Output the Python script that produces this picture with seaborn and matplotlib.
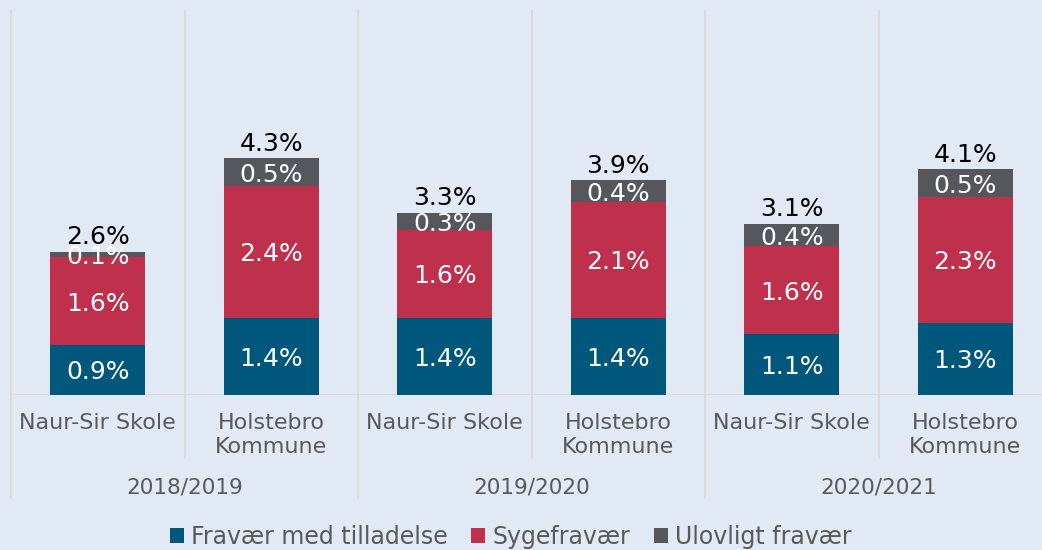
import pandas as pd
import seaborn as sns
import matplotlib.pyplot as plt
import matplotlib.transforms as mtransforms
from matplotlib.patches import Patch

# data (percent)
years = ["2018/2019", "2019/2020", "2020/2021"]
units = ["Naur-Sir Skole", "Holstebro\nKommune"]
series = ["Fravær med tilladelse", "Sygefravær", "Ulovligt fravær"]
med_tilladelse = [0.9, 1.4, 1.4, 1.4, 1.1, 1.3]
sygefravaer = [1.6, 2.4, 1.6, 2.1, 1.6, 2.3]
ulovligt = [0.1, 0.5, 0.3, 0.4, 0.4, 0.5]

colors = ["#00577C", "#BE304B", "#55575C"]
bg = "#E1E9F4"
line_col = "#D9D9D9"
text_col = "#595959"

sns.set_theme(style="white", rc={"axes.facecolor": bg, "figure.facecolor": bg})
plt.rcParams["font.family"] = ["DejaVu Sans"]

slots = [f"{u}|{y}" for y in years for u in units]
df = pd.DataFrame({"slot": slots, "med": med_tilladelse, "syg": sygefravaer, "ulov": ulovligt})
df["c1"] = df["med"]
df["c2"] = df["med"] + df["syg"]
df["c3"] = df["c2"] + df["ulov"]

fig = plt.figure(figsize=(10.42, 5.5), dpi=100)
ax = fig.add_axes([11 / 1042, 1 - 394.5 / 550, 1041 / 1042, 384.5 / 550])

# stacked bars drawn from the top segment down
for col, color in zip(["c3", "c2", "c1"], colors[::-1]):
    sns.barplot(data=df, x="slot", y=col, color=color, width=0.55, saturation=1,
                linewidth=0, ax=ax)

ax.set_xlim(-0.5, 5.5)
ax.set_ylim(0, 7)
ax.set_xticks([])
ax.set_yticks([])
ax.set_xlabel("")
ax.set_ylabel("")
for s in ax.spines.values():
    s.set_visible(False)

# segment labels and totals
for i, row in df.iterrows():
    bottom = 0
    for key in ["med", "syg", "ulov"]:
        v = row[key]
        ax.text(i, bottom + v / 2, f"{v:.1f}%", ha="center", va="center_baseline",
                color="white", fontsize=18)
        bottom += v
    ax.annotate(f"{row['c3']:.1f}%", (i, row["c3"]), xytext=(0, 2),
                textcoords="offset points", ha="center", va="bottom",
                color="black", fontsize=18)

# separators and category axis
trans = mtransforms.blended_transform_factory(ax.transData, ax.transAxes)
ax.axhline(0, color=line_col, lw=1.3, zorder=0)
for k in range(7):
    x = k - 0.5
    low = -0.269 if k % 2 == 0 else -0.165
    ax.plot([x, x], [1, low], transform=trans, clip_on=False, color=line_col,
            lw=1.3, zorder=0)

for i, slot in enumerate(slots):
    ax.text(i, -0.047, slot.split("|")[0], transform=trans, ha="center", va="top",
            fontsize=16, color=text_col, linespacing=1.3)
for j, y in enumerate(years):
    ax.text(2 * j + 0.5, -0.243, y, transform=trans, ha="center", va="center",
            fontsize=15.5, color=text_col)

handles = [Patch(facecolor=c, edgecolor="none") for c in colors]
fig.legend(handles, series, loc="center", bbox_to_anchor=(0.49, 1 - 537 / 550),
           ncol=3, frameon=False, fontsize=17, handlelength=0.6, handleheight=0.6,
           handletextpad=0.3, columnspacing=1.0, labelcolor=text_col)

fig.savefig("out.png", dpi=100, facecolor=bg)
